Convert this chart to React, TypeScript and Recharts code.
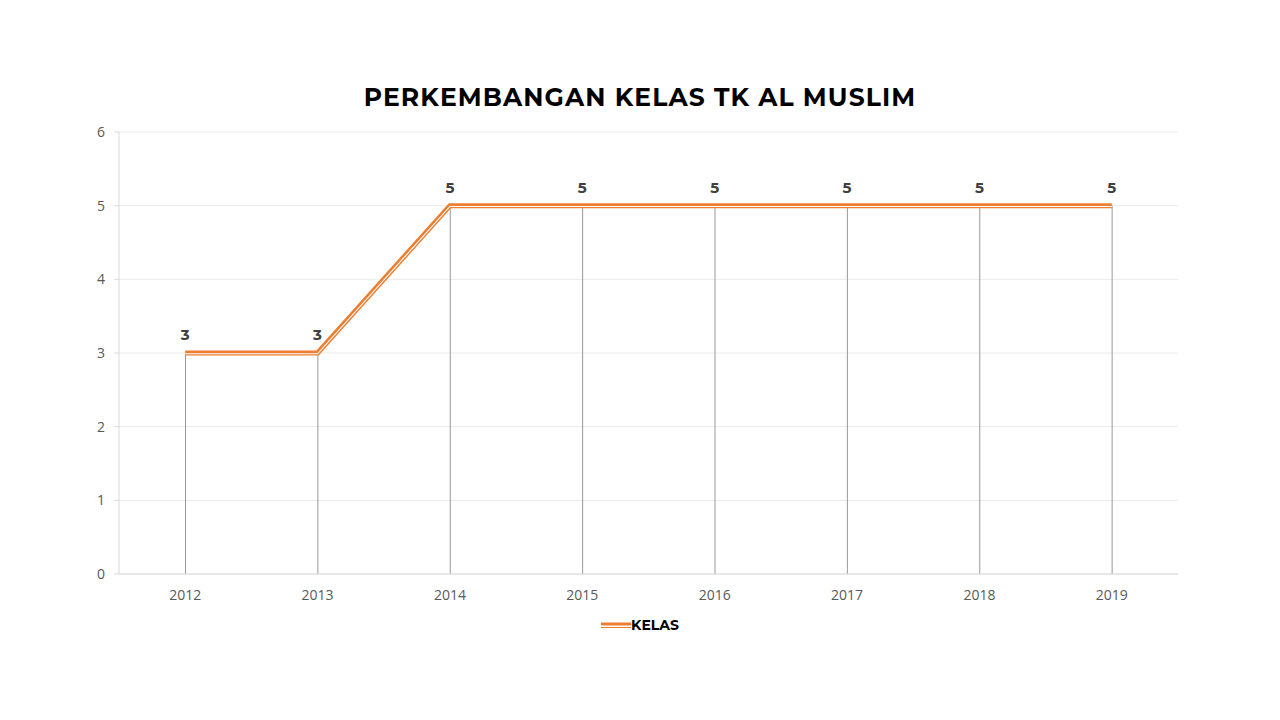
import React from 'react';
import { ComposedChart, Line, Bar, XAxis, YAxis, CartesianGrid, LabelList } from 'recharts';

const years = ['2012', '2013', '2014', '2015', '2016', '2017', '2018', '2019'];
const kelas = [3, 3, 5, 5, 5, 5, 5, 5];
const yTicks = [0, 1, 2, 3, 4, 5, 6];

const data = years.map((y, i) => ({ year: y, kelas: kelas[i] }));

const ORANGE = '#ED7D31';
const GEO = 'Montserrat, "Open Sans", sans-serif';
const TICK = '"Open Sans", sans-serif';

export default function App() {
  return (
    <div style={{ position: 'absolute', left: 0, top: 0, width: 1280, height: 720, background: '#fff' }}>
      <div
        style={{
          position: 'absolute',
          left: 0,
          width: 1280,
          top: 82,
          textAlign: 'center',
          fontFamily: GEO,
          fontWeight: 700,
          fontSize: 25,
          letterSpacing: 1.1,
          color: '#000',
        }}
      >
        PERKEMBANGAN KELAS TK AL MUSLIM
      </div>
      <ComposedChart
        width={1280}
        height={720}
        data={data}
        margin={{ top: 132, right: 102, bottom: 106, left: 0 }}
      >
        <CartesianGrid vertical={false} stroke="#ebebeb" />
        <XAxis
          dataKey="year"
          axisLine={{ stroke: '#d9d9d9' }}
          tickLine={false}
          tick={{ fill: '#595959', fontSize: 14, fontFamily: TICK }}
          tickMargin={10}
          height={40}
        />
        <YAxis
          width={119}
          domain={[0, 6]}
          ticks={yTicks}
          axisLine={{ stroke: '#d9d9d9' }}
          tickLine={{ stroke: '#d9d9d9' }}
          tickSize={5}
          tickMargin={9}
          tick={{ fill: '#595959', fontSize: 14, fontFamily: TICK }}
        />
        <Bar dataKey="kelas" barSize={1} fill="#999999" isAnimationActive={false} legendType="none" />
        <Line
          dataKey="kelas"
          stroke={ORANGE}
          strokeWidth={5}
          dot={false}
          activeDot={false}
          isAnimationActive={false}
        >
          <LabelList
            dataKey="kelas"
            position="top"
            offset={13}
            style={{ fill: '#404040', fontSize: 15, fontWeight: 700, fontFamily: GEO }}
          />
        </Line>
        <Line
          dataKey="kelas"
          stroke="#ffffff"
          strokeWidth={1.1}
          transform="translate(0,0.8)"
          dot={false}
          activeDot={false}
          isAnimationActive={false}
          legendType="none"
        />
      </ComposedChart>
      <div
        style={{
          position: 'absolute',
          left: 0,
          width: 1280,
          top: 616,
          display: 'flex',
          justifyContent: 'center',
          alignItems: 'center',
          fontFamily: GEO,
        }}
      >
        <div style={{ display: 'flex', alignItems: 'center' }}>
          <svg width={30} height={10}>
            <line x1={0} y1={4} x2={30} y2={4} stroke={ORANGE} strokeWidth={3} />
            <line x1={0} y1={7.5} x2={30} y2={7.5} stroke={ORANGE} strokeWidth={1} />
          </svg>
          <span style={{ fontSize: 14, fontWeight: 700, color: '#000' }}>KELAS</span>
        </div>
      </div>
    </div>
  );
}
